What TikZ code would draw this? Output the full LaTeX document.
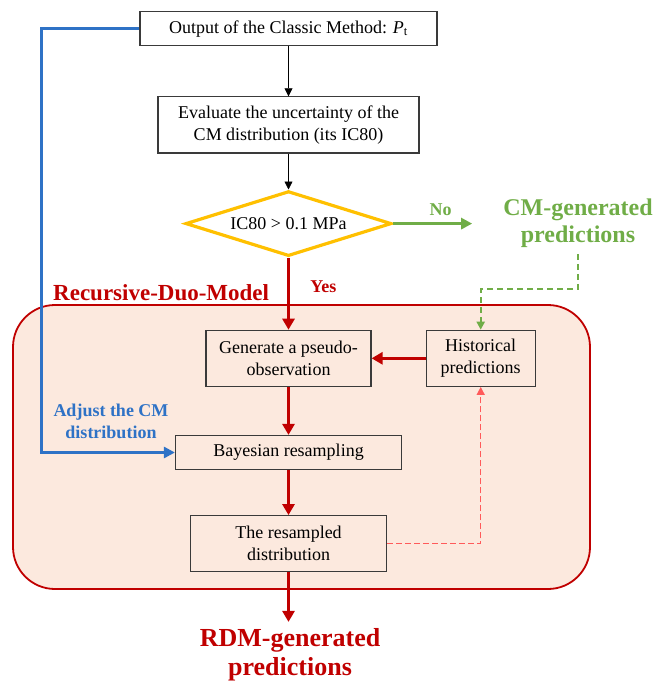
\documentclass[tikz,border=0pt]{standalone}
\usepackage{fontspec}
\setmainfont{Liberation Serif}
\usetikzlibrary{arrows.meta, positioning, shapes.geometric}
\definecolor{rdmred}{HTML}{C00000}
\definecolor{dashred}{HTML}{FF5A5A}
\definecolor{cmgreen}{HTML}{70AD47}
\definecolor{cmblue}{HTML}{2E72C6}
\definecolor{testyellow}{HTML}{FFC000}
\definecolor{regionfill}{HTML}{FCE9DE}
\definecolor{boxgray}{HTML}{3A3A3A}

\begin{document}
\begin{tikzpicture}[x=1pt, y=-1pt,
  box/.style={draw=boxgray, line width=1.2pt, align=center, inner sep=0pt,
              font=\fontsize{18}{22}\selectfont},
  test/.style={diamond, draw=testyellow, line width=3.2pt, aspect=3.2, inner sep=0pt,
               minimum width=206pt, minimum height=65pt, font=\fontsize{18}{22}\selectfont},
  region/.style={draw=rdmred, line width=1.8pt, fill=regionfill, rounded corners=42pt,
                 minimum width=577pt, minimum height=284pt},
  lbl/.style={font=\fontsize{18}{22}\selectfont\bfseries, align=center, inner sep=0pt},
  arr/.style={-{Triangle[length=8pt, width=8pt]}, line width=0.8pt, draw=black},
  redarr/.style={-{Triangle[length=11pt, width=12pt]}, line width=3.5pt, draw=rdmred},
  greenarr/.style={-{Triangle[length=11pt, width=11pt]}, line width=3.2pt, draw=cmgreen},
  bluearr/.style={-{Triangle[length=11pt, width=11pt]}, line width=3.2pt, draw=cmblue},
  greendash/.style={-{Triangle[length=8pt, width=8pt]}, line width=2pt, draw=cmgreen,
                    dash pattern=on 6pt off 4pt},
  reddash/.style={-{Triangle[length=8pt, width=8pt]}, line width=1.3pt, draw=dashred,
                  dash pattern=on 6pt off 3pt}]
\useasboundingbox (0,0) rectangle (654,682);
% the Recursive-Duo-Model region
\node[region] (rdm) at (301.5,447) {};
\node[lbl, anchor=base west, text=rdmred, font=\fontsize{23}{26}\selectfont\bfseries]
  (rdmlabel) at (53,300.6) {Recursive-Duo-Model};
% main column
\node[box, minimum width=297pt, minimum height=34pt] (out1) at (288.5,28.7)
  {Output of the Classic Method: \textit{P}\textsubscript{t}};
\node[box, minimum width=261pt, minimum height=56pt, below=50pt of out1] (eval)
  {Evaluate the uncertainty of the\\ CM distribution (its IC80)};
\node[test, below=36pt of eval] (dec) {IC80 > 0.1 MPa};
\node[box, minimum width=165pt, minimum height=56pt, below=72pt of dec] (gen)
  {Generate a pseudo-\\observation};
\node[box, minimum width=109pt, minimum height=56pt, right=54pt of gen] (hist)
  {Historical\\predictions};
\node[box, minimum width=226pt, minimum height=34pt, below=48pt of gen] (bayes)
  {Bayesian resampling};
\node[box, minimum width=196pt, minimum height=56pt, below=45pt of bayes] (resamp)
  {The resampled\\distribution};
% outputs
\node[lbl, text=cmgreen, font=\fontsize{24}{27}\selectfont\bfseries,
      inner xsep=31pt, inner ysep=7pt] (cmpred) at (578,222.8)
  {CM-generated\\predictions};
\node[lbl, text=rdmred, font=\fontsize{26}{29}\selectfont\bfseries,
      inner ysep=6pt] (rdmpred) at (290,654.4)
  {RDM-generated\\predictions};
\node[lbl, text=cmblue] (adjust) at (111,421) {Adjust the CM\\distribution};
% connectors
\draw[arr] (out1) -- (eval);
\draw[arr] (eval) -- (dec);
\draw[greenarr] (dec.east) -- (cmpred.west |- dec.east)
  node[lbl, text=cmgreen, pos=0.6, above=6pt] (no) {No};
\draw[redarr] (dec.south) -- (gen.north)
  node[lbl, text=rdmred, pos=0.4, right=20pt] (yes) {Yes};
\draw[redarr] (hist) -- (gen);
\draw[redarr] (gen) -- (bayes);
\draw[redarr] (bayes) -- (resamp);
\draw[redarr] (resamp.south) -- (resamp.south |- rdmpred.north);
\draw[bluearr] (out1.west) -- ++(-98,0) |- (bayes.west);
\draw[greendash] (cmpred.south) -- ++(0,35) -| (hist.north);
\draw[reddash] (resamp.east) -| (hist.south);
\end{tikzpicture}
\end{document}
